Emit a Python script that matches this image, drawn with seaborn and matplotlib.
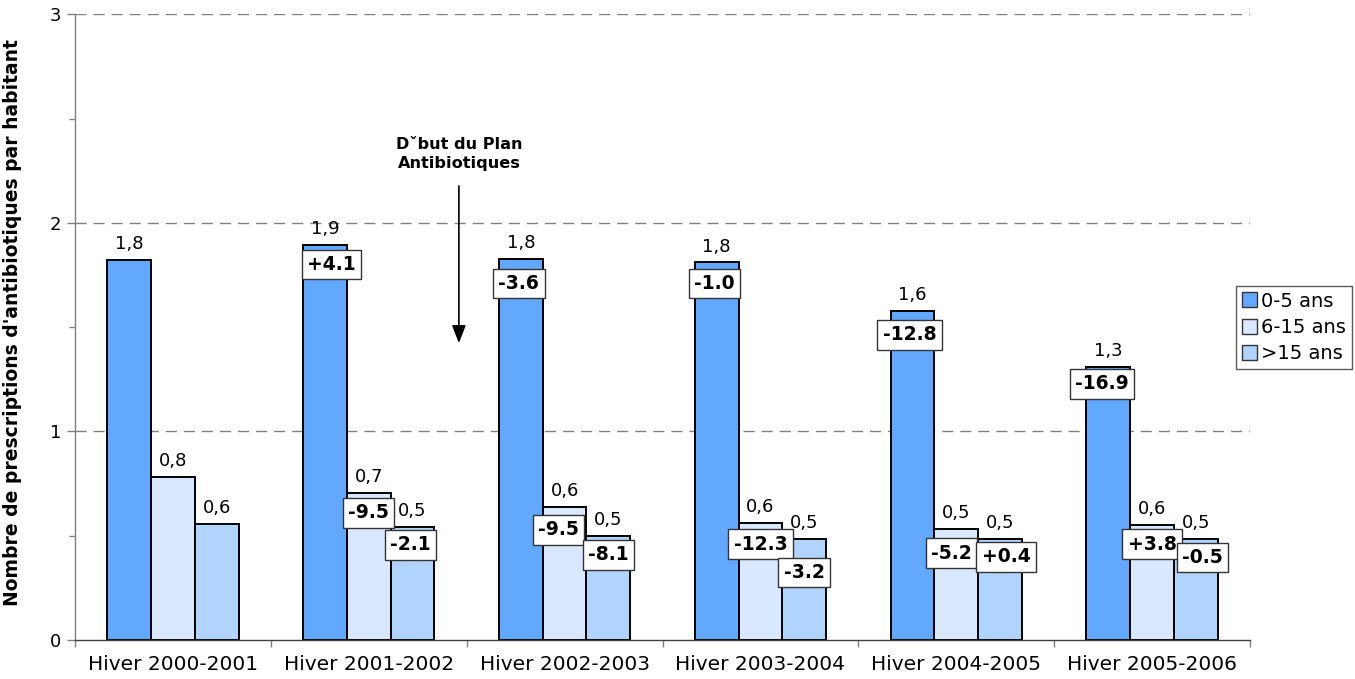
import matplotlib
matplotlib.use("Agg")
import matplotlib.pyplot as plt
from matplotlib.ticker import MultipleLocator, FixedLocator
import seaborn as sns
import pandas as pd

# ---- data ----
categories = ["Hiver 2000-2001", "Hiver 2001-2002", "Hiver 2002-2003",
              "Hiver 2003-2004", "Hiver 2004-2005", "Hiver 2005-2006"]
groups = ["0-5 ans", "6-15 ans", ">15 ans"]
vals_0_5 = [1.82, 1.895, 1.828, 1.81, 1.578, 1.31]
vals_6_15 = [0.78, 0.705, 0.638, 0.56, 0.532, 0.551]
vals_15p = [0.555, 0.543, 0.499, 0.483, 0.485, 0.483]
value_labels_0_5 = ["1,8", "1,9", "1,8", "1,8", "1,6", "1,3"]
value_labels_6_15 = ["0,8", "0,7", "0,6", "0,6", "0,5", "0,6"]
value_labels_15p = ["0,6", "0,5", "0,5", "0,5", "0,5", "0,5"]
pct_0_5 = ["", "+4.1", "-3.6", "-1.0", "-12.8", "-16.9"]
pct_6_15 = ["", "-9.5", "-9.5", "-12.3", "-5.2", "+3.8"]
pct_15p = ["", "-2.1", "-8.1", "-3.2", "+0.4", "-0.5"]
colors = ["#62A8FF", "#D9E8FF", "#B1D4FF"]
ylabel = "Nombre de prescriptions d'antibiotiques par habitant"
annot_text = "Dˇbut du Plan\nAntibiotiques"

# ---- layout nudges for the percentage boxes (pixels: dx, dy down) ----
box_nudge_0_5 = [(0, 0), (6, -1), (-2, 4), (-2, 0), (-3, 3), (-6, -4)]
box_nudge_6_15 = [(0, 0), (0, -1), (-6, 2), (0, 0), (-5, 3), (0, -2)]
box_nudge_15p = [(0, 0), (-2, -3), (0, -2), (0, 12), (6, -3), (7, -3)]

df = pd.DataFrame({
    "cat": categories * 3,
    "grp": [groups[0]] * 6 + [groups[1]] * 6 + [groups[2]] * 6,
    "val": vals_0_5 + vals_6_15 + vals_15p,
})

sns.set_theme(style="white")
plt.rcParams["font.family"] = ["DejaVu Sans"]
plt.rcParams["text.color"] = "black"
plt.rcParams["axes.labelcolor"] = "black"
plt.rcParams["xtick.color"] = "black"
plt.rcParams["ytick.color"] = "black"

fig = plt.figure(figsize=(13.55, 6.79), dpi=100)
ax = fig.add_axes([0.0554, 0.0574, 0.8671, 0.9216])

sns.barplot(data=df, x="cat", y="val", hue="grp", order=categories,
            hue_order=groups, palette=colors, width=0.67, saturation=1,
            edgecolor="black", linewidth=1.4, ax=ax, legend=True)

ax.set_xlim(-0.5, 5.5)
ax.set_ylim(0, 3)
ax.set_xlabel("")
ax.set_ylabel(ylabel, fontsize=13.5, fontweight="bold")
ax.yaxis.set_label_coords(-0.045, 0.508)

# ticks
ax.yaxis.set_major_locator(FixedLocator([0, 1, 2, 3]))
ax.yaxis.set_minor_locator(MultipleLocator(0.5))
ax.tick_params(axis="y", which="major", left=True, direction="out", length=6,
               width=1, color="#808080", labelsize=13, pad=4)
ax.tick_params(axis="y", which="minor", left=True, direction="out", length=4,
               width=1, color="#808080")
ax.xaxis.set_minor_locator(FixedLocator([-0.5, 0.5, 1.5, 2.5, 3.5, 4.5, 5.5]))
ax.tick_params(axis="x", which="major", bottom=False, labelsize=14.5, pad=5)
ax.tick_params(axis="x", which="minor", bottom=True, direction="out", length=5,
               width=1, color="#808080")

for s in ["top", "right"]:
    ax.spines[s].set_visible(False)
ax.spines["left"].set_color("#808080")
ax.spines["bottom"].set_color("#404040")
ax.spines["left"].set_linewidth(1)
ax.spines["bottom"].set_linewidth(1)

for yv in [1, 2, 3]:
    ax.axhline(yv, color="#808080", linestyle=(0, (8, 5)), linewidth=1, zorder=0)

# value labels and percentage boxes
value_labels = [value_labels_0_5, value_labels_6_15, value_labels_15p]
pct_labels = [pct_0_5, pct_6_15, pct_15p]
nudges = [box_nudge_0_5, box_nudge_6_15, box_nudge_15p]
for ci, cont in enumerate(ax.containers):
    ax.bar_label(cont, labels=value_labels[ci], padding=5, fontsize=13)
    for bi, bar in enumerate(cont):
        txt = pct_labels[ci][bi]
        if txt:
            cx = bar.get_x() + bar.get_width() / 2
            top = bar.get_height()
            dx, dy = nudges[ci][bi]
            ax.annotate(txt, xy=(cx, top), xytext=(dx * 0.72, -(21 + dy) * 0.72),
                        textcoords="offset points", ha="center", va="center",
                        fontsize=13.5, fontweight="bold", zorder=5 + ci,
                        bbox=dict(boxstyle="square,pad=0.28", facecolor="white",
                                  edgecolor="#333333", linewidth=1))

# annotation arrow
ax.annotate("", xy=(1.46, 1.41), xytext=(1.46, 2.19),
            arrowprops=dict(arrowstyle="-|>,head_length=0.9,head_width=0.35",
                            color="black", lw=1.2))
ax.text(1.46, 2.33, annot_text, ha="center", va="center", fontsize=11.6,
        fontweight="bold", linespacing=1.35)

# legend
leg = ax.legend(loc="upper left", bbox_to_anchor=(0.912, 0.579),
                bbox_transform=fig.transFigure, frameon=True, fancybox=False,
                fontsize=14, handlelength=0.8, handleheight=0.8,
                handletextpad=0.2, borderpad=0.3, labelspacing=0.38,
                borderaxespad=0)
leg.get_frame().set_edgecolor("#333333")
leg.get_frame().set_linewidth(1)
for h in leg.legend_handles:
    h.set_edgecolor("#333333")
    h.set_linewidth(1)

fig.savefig("out.png", dpi=100)
